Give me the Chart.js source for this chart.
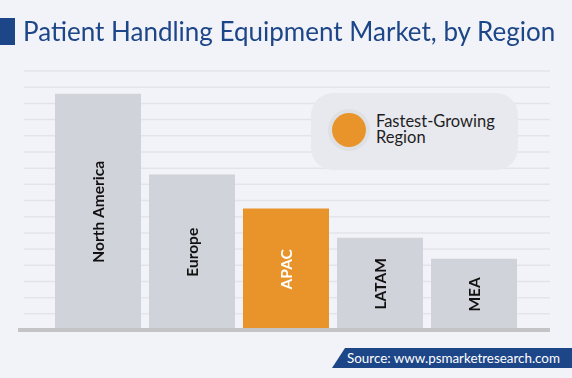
<!DOCTYPE html>
<html>
<head>
<meta charset="utf-8">
<script src="https://cdn.jsdelivr.net/npm/chart.js@4.4.1/dist/chart.umd.min.js"></script>
<style>
  html, body { margin: 0; padding: 0; background: #f2f3f8; }
  #wrap { position: relative; width: 572px; height: 378px; overflow: hidden; background: #f2f3f8; font-family: Lato, "Noto Sans", sans-serif; }
  #chart { position: absolute; left: 0; top: 0; }
  .title-mark { position: absolute; left: 0; top: 18px; width: 15px; height: 27px; background: #1d4688; }
  .title { position: absolute; left: 23px; top: 15px; font-size: 26px; color: #1d4688; white-space: nowrap; }
  .legend { position: absolute; left: 311px; top: 93px; width: 207px; height: 77px; border-radius: 22px; background: #e8e9ee; }
  .legend .ring { position: absolute; left: 17px; top: 16px; width: 42px; height: 42px; border-radius: 50%; background: #dfe0e4; }
  .legend .dot { position: absolute; left: 4px; top: 4px; width: 34px; height: 34px; border-radius: 50%; background: #e8942a; }
  .legend .txt { position: absolute; left: 65px; top: 20px; font-size: 16.5px; line-height: 16px; color: #1e1e1e; }
  .source { position: absolute; left: 332px; top: 348px; width: 240px; height: 20px; background: #1d4688; clip-path: polygon(13px 0, 100% 0, 100% 100%, 0 100%); }
  .source span { position: absolute; left: 15px; top: 2px; font-size: 13.4px; color: #fff; white-space: nowrap; }
</style>
</head>
<body>
<div id="wrap">
  <canvas id="chart" width="572" height="378"></canvas>
  <div class="title-mark"></div>
  <div class="title">Patient Handling Equipment Market, by Region</div>
  <div class="legend">
    <div class="ring"><div class="dot"></div></div>
    <div class="txt">Fastest-Growing<br>Region</div>
  </div>
  <div class="source"><span>Source: www.psmarketresearch.com</span></div>
</div>
<script>
// values (relative units, one gridline = 1)
const regions = ["North America", "Europe", "APAC", "LATAM", "MEA"];
const marketSize = [14.6, 9.6, 7.5, 5.7, 4.4];
const fastest = "APAC";
const yTicksMax = 16;

const barColors = regions.map(r => r === fastest ? "#e8942a" : "#d1d3da");
const labelColors = regions.map(r => r === fastest ? "#ffffff" : "#111111");

// horizontal guide lines and the base line, drawn past the plot area
const gridPlugin = {
  id: "wideGrid",
  beforeDatasetsDraw(chart) {
    const ctx = chart.ctx;
    const y = chart.scales.y;
    ctx.save();
    ctx.strokeStyle = "#e3e4ea";
    ctx.lineWidth = 1.5;
    for (let v = 1; v <= yTicksMax; v++) {
      const py = y.getPixelForValue(v);
      ctx.beginPath();
      ctx.moveTo(24, py);
      ctx.lineTo(550, py);
      ctx.stroke();
    }
    ctx.restore();
  },
  afterDatasetsDraw(chart) {
    const ctx = chart.ctx;
    const y = chart.scales.y;
    const py = y.getPixelForValue(0);
    ctx.save();
    ctx.fillStyle = "#c4c4c6";
    ctx.fillRect(18, py - 2, 532, 4);
    ctx.restore();
  }
};

// region names written upright inside each bar
const barLabels = {
  id: "barLabels",
  afterDatasetsDraw(chart) {
    const ctx = chart.ctx;
    const meta = chart.getDatasetMeta(0);
    ctx.save();
    ctx.font = "bold 15.5px Lato, 'Noto Sans', sans-serif";
    ctx.textAlign = "center";
    ctx.textBaseline = "middle";
    meta.data.forEach((bar, i) => {
      const cy = (bar.y + bar.base) / 2;
      ctx.save();
      ctx.translate(bar.x + 1, cy);
      ctx.rotate(-Math.PI / 2);
      ctx.fillStyle = labelColors[i];
      ctx.fillText(regions[i], 0, 0);
      ctx.restore();
    });
    ctx.restore();
  }
};

new Chart(document.getElementById("chart"), {
  type: "bar",
  data: {
    labels: regions,
    datasets: [{
      data: marketSize,
      backgroundColor: barColors,
      borderWidth: 0,
      barPercentage: 0.915,
      categoryPercentage: 1
    }]
  },
  options: {
    responsive: false,
    animation: false,
    layout: { padding: { left: 51, right: 51, top: 71, bottom: 48 } },
    plugins: { legend: { display: false }, tooltip: { enabled: false } },
    scales: {
      x: { display: false },
      y: { display: false, min: 0, max: yTicksMax, ticks: { stepSize: 1, autoSkip: false } }
    }
  },
  plugins: [gridPlugin, barLabels]
});
</script>
</body>
</html>
